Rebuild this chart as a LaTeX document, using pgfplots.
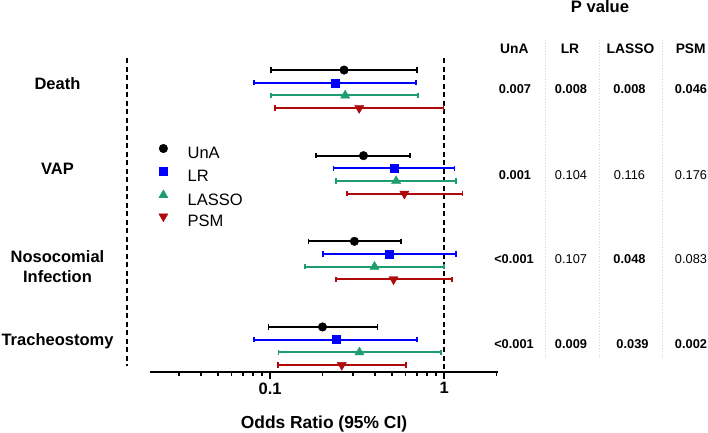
\documentclass[border=0pt]{standalone}
\usepackage{fontspec}
\setmainfont{Liberation Sans}
\usepackage{pgfplots}
\pgfplotsset{compat=1.18}

\definecolor{unacol}{RGB}{0,0,0}
\definecolor{lrcol}{RGB}{0,0,255}
\definecolor{lassocol}{RGB}{30,158,110}
\definecolor{psmcol}{RGB}{175,10,10}

\newcommand{\fs}[1]{\fontsize{#1}{#1}\selectfont}

\begin{document}
\begin{tikzpicture}
\useasboundingbox (0,0) rectangle (708pt,432pt);
\begin{axis}[
  at={(150pt,60pt)}, anchor=south west,
  scale only axis, width=348pt, height=314pt,
  xmode=log, xmin=0.0204, xmax=2.04,
  ymin=-0.95, ymax=23.8, y dir=reverse,
  axis x line*=bottom, hide y axis,
  x axis line style={line width=2pt},
  xtick={0.1,1}, xticklabels={0.1,1},
  minor xtick={0.03,0.04,0.05,0.06,0.07,0.08,0.09,0.2,0.3,0.4,0.5,0.6,0.7,0.8,0.9,2},
  tick align=outside,
  major tick length=7pt, minor tick length=4pt,
  tick style={black, line width=1.8pt},
  xticklabel style={font=\bfseries\fs{16.5}},
  xlabel={Odds Ratio (95\% CI)},
  xlabel style={font=\bfseries\fs{17.4}, at={(axis description cs:0.5,0)}, anchor=base, yshift=-56pt},
  clip=false,
  legend cell align=left,
  legend style={at={(axis description cs:0.0115,0.7261)}, anchor=north west,
    draw=none, fill=none, inner sep=0pt, row sep=5pt, font=\fs{16.5},
    nodes={inner sep=0pt, text height=12pt, text depth=3.5pt}},
  legend image code/.code={\path (-9pt,0pt) (24pt,0pt); \draw[#1] plot coordinates {(0pt,5.9pt)};},
]
% reference lines
\addplot[black, line width=2pt, dash pattern=on 5pt off 3.5pt, forget plot] coordinates {(1,-0.95) (1,23.8)};
\addplot[black, line width=2pt, dash pattern=on 5pt off 3.5pt, forget plot] coordinates {(0.015,-0.95) (0.015,23.3)};

% 95% CI whiskers
\addplot[unacol, line width=2pt, mark=|, mark size=2.7pt, mark options={solid, line width=1.6pt}, unbounded coords=jump, forget plot]
  coordinates {(0.101,0) (0.697,0) (nan,nan) (0.184,6.75) (0.638,6.75) (nan,nan) (0.166,13.5) (0.566,13.5) (nan,nan) (0.098,20.25) (0.414,20.25)};
\addplot[lrcol, line width=2pt, mark=|, mark size=2.7pt, mark options={solid, line width=1.6pt}, unbounded coords=jump, forget plot]
  coordinates {(0.081,1) (0.690,1) (nan,nan) (0.231,7.75) (1.146,7.75) (nan,nan) (0.202,14.5) (1.172,14.5) (nan,nan) (0.081,21.25) (0.697,21.25)};
\addplot[lassocol, line width=2pt, mark=|, mark size=2.7pt, mark options={solid, line width=1.6pt}, unbounded coords=jump, forget plot]
  coordinates {(0.101,2) (0.706,2) (nan,nan) (0.239,8.75) (1.172,8.75) (nan,nan) (0.159,15.5) (1.000,15.5) (nan,nan) (0.112,22.25) (0.957,22.25)};
\addplot[psmcol, line width=2pt, mark=|, mark size=2.7pt, mark options={solid, line width=1.6pt}, unbounded coords=jump, forget plot]
  coordinates {(0.107,3) (0.990,3) (nan,nan) (0.276,9.75) (1.274,9.75) (nan,nan) (0.239,16.5) (1.107,16.5) (nan,nan) (0.111,23.25) (0.605,23.25)};

% odds ratios
\addplot[unacol, only marks, mark=*, mark size=4.3pt]
  coordinates {(0.266,0) (0.344,6.75) (0.305,13.5) (0.200,20.25)};
\addlegendentry{UnA}
\addplot[lrcol, only marks, mark=square*, mark size=4pt]
  coordinates {(0.236,1) (0.516,7.75) (0.485,14.5) (0.239,21.25)};
\addlegendentry{LR}
\addplot[lassocol, only marks, mark=triangle*, mark size=5.3pt]
  coordinates {(0.270,2) (0.530,8.75) (0.398,15.5) (0.326,22.25)};
\addlegendentry{LASSO}
\addplot[psmcol, only marks, mark=triangle*, mark size=5.3pt, mark options={rotate=180}]
  coordinates {(0.325,3) (0.591,9.75) (0.512,16.5) (0.258,23.25)};
\addlegendentry{PSM}
\end{axis}

% outcome labels
\begin{scope}[every node/.style={font=\bfseries\fs{16.5}, anchor=base}]
\node at (57.5pt,343pt) {Death};
\node at (57.5pt,257.7pt) {VAP};
\node at (57.5pt,169.3pt) {Nosocomial};
\node at (57.5pt,149.7pt) {Infection};
\node at (57.5pt,86.9pt) {Tracheostomy};
\end{scope}

% P value table
\foreach \x in {545,599.3,662.7}
  \draw[gray!35, dotted, line width=0.8pt] (\x pt,392pt) -- (\x pt,75pt);
\node[font=\bfseries\fs{16.6}, anchor=base] at (600pt,419.5pt) {P value};
\begin{scope}[every node/.style={font=\bfseries\fs{13.8}, anchor=base}]
\node at (514.3pt,378pt) {UnA};
\node at (570pt,378pt) {LR};
\node at (630.5pt,378pt) {LASSO};
\node at (690.7pt,378pt) {PSM};
\end{scope}
\begin{scope}[every node/.style={font=\fs{12.8}, anchor=base}]
\node[font=\bfseries\fs{12.8}] at (515pt,338pt) {0.007};
\node[font=\bfseries\fs{12.8}] at (571pt,338pt) {0.008};
\node[font=\bfseries\fs{12.8}] at (629.5pt,338pt) {0.008};
\node[font=\bfseries\fs{12.8}] at (691pt,338pt) {0.046};
\node[font=\bfseries\fs{12.8}] at (515pt,253pt) {0.001};
\node at (571pt,253pt) {0.104};
\node at (629.5pt,253pt) {0.116};
\node at (691pt,253pt) {0.176};
\node[font=\bfseries\fs{12.8}] at (514pt,168.3pt) {<0.001};
\node at (571pt,168.3pt) {0.107};
\node[font=\bfseries\fs{12.8}] at (629.5pt,168.3pt) {0.048};
\node at (691pt,168.3pt) {0.083};
\node[font=\bfseries\fs{12.8}] at (514pt,83.3pt) {<0.001};
\node[font=\bfseries\fs{12.8}] at (571pt,83.3pt) {0.009};
\node[font=\bfseries\fs{12.8}] at (632.5pt,83.3pt) {0.039};
\node[font=\bfseries\fs{12.8}] at (691pt,83.3pt) {0.002};
\end{scope}
\end{tikzpicture}
\end{document}
